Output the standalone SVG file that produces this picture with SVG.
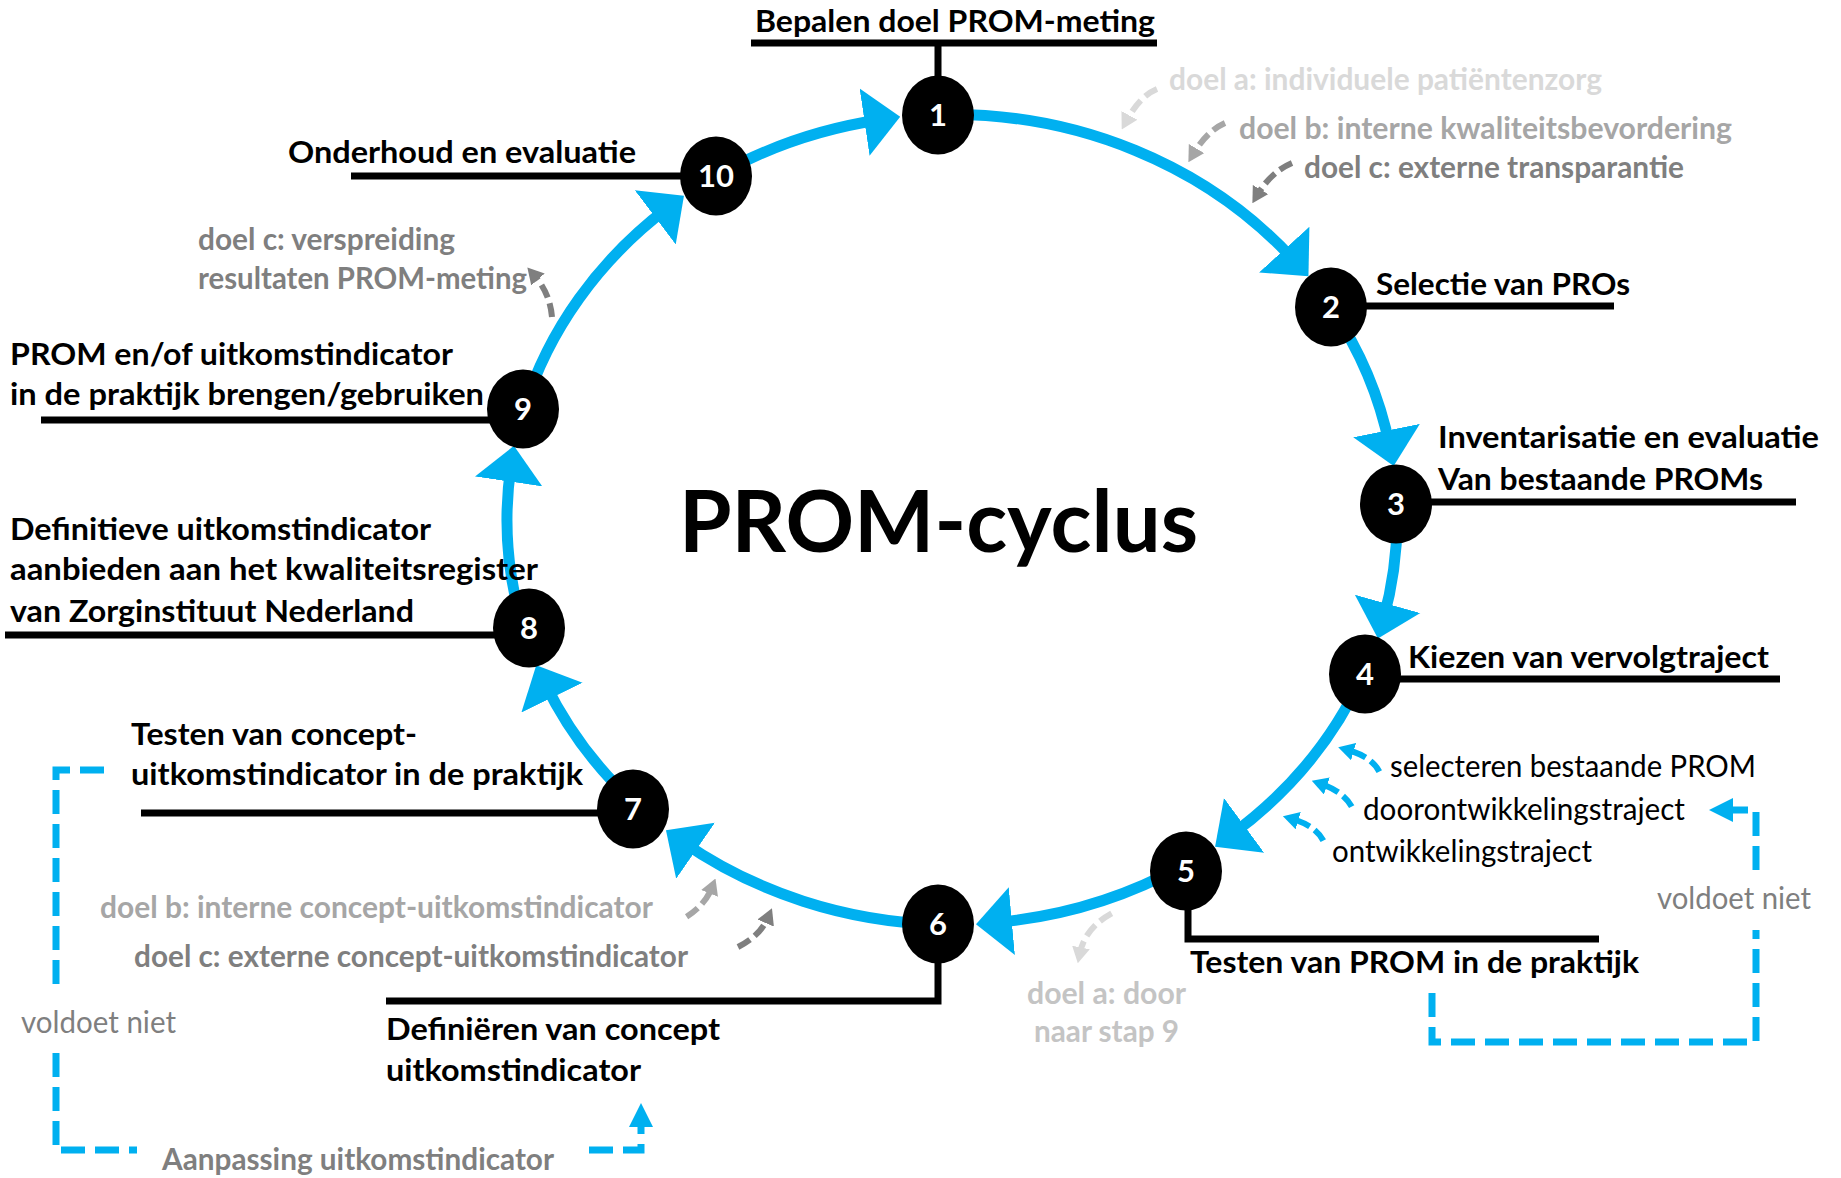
<svg xmlns="http://www.w3.org/2000/svg" width="1841" height="1178" viewBox="0 0 1841 1178">
<style>
  text { font-family: Lato, "Open Sans", sans-serif; }
  .b { font-weight: 700; font-size: 31px; fill: #000; }
  .r { font-weight: 400; font-size: 30px; fill: #000; }
  .num { font-weight: 700; font-size: 31px; fill: #fff; text-anchor: middle; }
  .title { font-weight: 700; font-size: 86px; fill: #000; }
  .ga { fill: #d9d9d9; }
  .gb { fill: #a6a6a6; }
  .gc { fill: #7f7f7f; }
  .gd { fill: #c4c4c4; }
  .node { fill: #000; }
  .lead { fill: none; stroke: #000; stroke-width: 7; stroke-linejoin: miter; }
  .ring { fill: none; stroke: #00b0f0; stroke-width: 11; marker-end: url(#ah); }
  .dsm { fill: none; stroke-width: 6; stroke-dasharray: 14 6; }
  .loop { fill: none; stroke: #00b0f0; stroke-width: 7; stroke-dasharray: 24 10; }
</style>
<defs>
  <marker id="ah" viewBox="0 -35 36 70" refX="16" refY="0" markerWidth="36" markerHeight="70" markerUnits="userSpaceOnUse" orient="auto">
    <path d="M0,-34 L36,0 L0,34 Z" fill="#00b0f0"/>
  </marker>
  <marker id="sa-blue" viewBox="0 -9 16 18" refX="6" refY="0" markerWidth="16" markerHeight="18" markerUnits="userSpaceOnUse" orient="auto">
    <path d="M0,-9 L16,0 L0,9 Z" fill="#00b0f0"/>
  </marker>
  <marker id="sa-d9" viewBox="0 -9 16 18" refX="6" refY="0" markerWidth="16" markerHeight="18" markerUnits="userSpaceOnUse" orient="auto">
    <path d="M0,-9 L16,0 L0,9 Z" fill="#d9d9d9"/>
  </marker>
  <marker id="sa-a6" viewBox="0 -9 16 18" refX="6" refY="0" markerWidth="16" markerHeight="18" markerUnits="userSpaceOnUse" orient="auto">
    <path d="M0,-9 L16,0 L0,9 Z" fill="#a6a6a6"/>
  </marker>
  <marker id="sa-7f" viewBox="0 -9 16 18" refX="6" refY="0" markerWidth="16" markerHeight="18" markerUnits="userSpaceOnUse" orient="auto">
    <path d="M0,-9 L16,0 L0,9 Z" fill="#7f7f7f"/>
  </marker>
  <marker id="la" viewBox="0 -12 24 24" refX="0" refY="0" markerWidth="24" markerHeight="24" markerUnits="userSpaceOnUse" orient="auto">
    <path d="M0,-12 L24,0 L0,12 Z" fill="#00b0f0"/>
  </marker>
</defs>
<rect width="1841" height="1178" fill="#fff"/>

<text id="title" class="title" x="679" y="552" textLength="519" lengthAdjust="spacingAndGlyphs">PROM-cyclus</text>

<g id="connectors">
  <path id="c10-1" class="ring" d="M716.2,176.0 A445,405 0 0 1 880.4,119.8"/>
  <path id="c1-2" class="ring" d="M938.0,114.7 A445,405 0 0 1 1295.0,261.4"/>
  <path id="c2-3" class="ring" d="M1331.0,307.3 A445,405 0 0 1 1389.7,446.3"/>
  <path id="c3-4" class="ring" d="M1396.7,504.0 A445,405 0 0 1 1383.3,619.3"/>
  <path id="c4-5" class="ring" d="M1363.6,673.5 A445,405 0 0 1 1231.2,834.9"/>
  <path id="c5-6" class="ring" d="M1182.5,865.9 A445,405 0 0 1 995.9,922.5"/>
  <path id="c6-7" class="ring" d="M938.0,924.3 A445,405 0 0 1 682.4,841.7"/>
  <path id="c7-8" class="ring" d="M636.8,805.4 A445,405 0 0 1 545.0,683.3"/>
  <path id="c8-9" class="ring" d="M523.6,629.1 A445,405 0 0 1 511.0,465.6"/>
  <path id="c9-10" class="ring" d="M523.8,409.2 A445,405 0 0 1 668.0,207.7"/>

  <!-- small dashed annotation arrows -->
  <path class="dsm" stroke="#d9d9d9" marker-end="url(#sa-d9)" d="M1157,89 Q1140,96 1126.5,120.7"/>
  <path class="dsm" stroke="#a6a6a6" marker-end="url(#sa-a6)" d="M1225,123 Q1207,131 1193.5,153.7"/>
  <path class="dsm" stroke="#7f7f7f" marker-end="url(#sa-7f)" d="M1292,163 Q1271,172 1257.5,194.7"/>
  <path class="dsm" stroke="#7f7f7f" marker-end="url(#sa-7f)" d="M552,317 Q550,293 534,275"/>
  <path class="dsm" stroke="#a6a6a6" marker-end="url(#sa-a6)" d="M686.6,916.7 Q705,905 711.8,887.8"/>
  <path class="dsm" stroke="#7f7f7f" marker-end="url(#sa-7f)" d="M738,947 Q760,936 768,917.5"/>
  <path class="dsm" stroke="#d9d9d9" marker-end="url(#sa-d9)" d="M1111.7,913.3 Q1085,928 1079.8,953.4"/>
  <path class="dsm" stroke="#00b0f0" marker-end="url(#sa-blue)" d="M1379.3,771.7 Q1372,757 1347.8,750"/>
  <path class="dsm" stroke="#00b0f0" marker-end="url(#sa-blue)" d="M1351.7,806.7 Q1344,792 1321.2,784"/>
  <path class="dsm" stroke="#00b0f0" marker-end="url(#sa-blue)" d="M1323.3,840.7 Q1316,826 1292.5,819"/>

  <!-- feedback loops -->
  <path class="loop" d="M1432,993 L1432,1042 L1756,1042 L1756,930"/>
  <path class="loop" marker-end="url(#la)" d="M1756,870 L1756,810 L1733,810"/>
  <path class="loop" d="M104,770 L56,770 L56,993"/>
  <path class="loop" d="M56,1053 L56,1150 L137,1150"/>
  <path class="loop" marker-end="url(#la)" d="M589,1150 L641,1150 L641,1127"/>
</g>

<g id="node-1">
  <path class="lead" d="M751,43 H1157 M938,43 V90"/>
  <ellipse class="node" cx="938" cy="115" rx="36" ry="39.5"/>
  <text class="num" x="938" y="126">1</text>
  <text class="b" x="755" y="32" textLength="400" lengthAdjust="spacingAndGlyphs">Bepalen doel PROM-meting</text>
</g>
<g id="node-2">
  <path class="lead" d="M1345,306 H1614"/>
  <ellipse class="node" cx="1331" cy="307" rx="36" ry="39.5"/>
  <text class="num" x="1331" y="318">2</text>
  <text class="b" x="1376" y="295" textLength="254" lengthAdjust="spacingAndGlyphs">Selectie van PROs</text>
</g>
<g id="node-3">
  <path class="lead" d="M1410,502 H1796"/>
  <ellipse class="node" cx="1396" cy="504" rx="36" ry="39.5"/>
  <text class="num" x="1396" y="515">3</text>
  <text class="b" x="1438" y="448" textLength="381" lengthAdjust="spacingAndGlyphs">Inventarisatie en evaluatie</text>
  <text class="b" x="1438" y="490" textLength="325" lengthAdjust="spacingAndGlyphs">Van bestaande PROMs</text>
</g>
<g id="node-4">
  <path class="lead" d="M1380,679 H1780"/>
  <ellipse class="node" cx="1365" cy="674" rx="36" ry="39.5"/>
  <text class="num" x="1365" y="685">4</text>
  <text class="b" x="1408" y="668" textLength="361" lengthAdjust="spacingAndGlyphs">Kiezen van vervolgtraject</text>
  <text class="r" x="1390" y="777" textLength="366" lengthAdjust="spacingAndGlyphs">selecteren bestaande PROM</text>
  <text class="r" x="1363" y="820" textLength="322" lengthAdjust="spacingAndGlyphs">doorontwikkelingstraject</text>
  <text class="r" x="1332" y="862" textLength="260" lengthAdjust="spacingAndGlyphs">ontwikkelingstraject</text>
</g>
<g id="node-5">
  <path class="lead" d="M1188,890 V939 H1599"/>
  <ellipse class="node" cx="1186" cy="871" rx="36" ry="39.5"/>
  <text class="num" x="1186" y="882">5</text>
  <text class="b" x="1190" y="973" textLength="449" lengthAdjust="spacingAndGlyphs">Testen van PROM in de praktijk</text>
  <text class="r gc" x="1657" y="909" textLength="154" lengthAdjust="spacingAndGlyphs">voldoet niet</text>
</g>
<g id="node-6">
  <path class="lead" d="M938,945 V1001 H386"/>
  <ellipse class="node" cx="938" cy="924" rx="36" ry="39.5"/>
  <text class="num" x="938" y="935">6</text>
  <text class="b" x="386" y="1040" textLength="334" lengthAdjust="spacingAndGlyphs">Definiëren van concept</text>
  <text class="b" x="386" y="1081" textLength="255" lengthAdjust="spacingAndGlyphs">uitkomstindicator</text>
</g>
<g id="node-7">
  <path class="lead" d="M141,813 H620"/>
  <ellipse class="node" cx="633" cy="809" rx="36" ry="39.5"/>
  <text class="num" x="633" y="820">7</text>
  <text class="b" x="131" y="745" textLength="286" lengthAdjust="spacingAndGlyphs">Testen van concept-</text>
  <text class="b" x="131" y="785" textLength="452" lengthAdjust="spacingAndGlyphs">uitkomstindicator in de praktijk</text>
  <text class="r gc" x="21" y="1033" textLength="155" lengthAdjust="spacingAndGlyphs">voldoet niet</text>
  <text class="b gc" x="162" y="1170" textLength="392" lengthAdjust="spacingAndGlyphs">Aanpassing uitkomstindicator</text>
</g>
<g id="node-8">
  <path class="lead" d="M5,635 H520"/>
  <ellipse class="node" cx="529" cy="628" rx="36" ry="39.5"/>
  <text class="num" x="529" y="639">8</text>
  <text class="b" x="10" y="540" textLength="421" lengthAdjust="spacingAndGlyphs">Definitieve uitkomstindicator</text>
  <text class="b" x="10" y="580" textLength="528" lengthAdjust="spacingAndGlyphs">aanbieden aan het kwaliteitsregister</text>
  <text class="b" x="10" y="622" textLength="404" lengthAdjust="spacingAndGlyphs">van Zorginstituut Nederland</text>
</g>
<g id="node-9">
  <path class="lead" d="M41,420 H510"/>
  <ellipse class="node" cx="523" cy="409" rx="36" ry="39.5"/>
  <text class="num" x="523" y="420">9</text>
  <text class="b" x="10" y="365" textLength="443" lengthAdjust="spacingAndGlyphs">PROM en/of uitkomstindicator</text>
  <text class="b" x="10" y="405" textLength="474" lengthAdjust="spacingAndGlyphs">in de praktijk brengen/gebruiken</text>
</g>
<g id="node-10">
  <path class="lead" d="M351,176 H700"/>
  <ellipse class="node" cx="716" cy="176" rx="36" ry="39.5"/>
  <text class="num" x="716" y="187">10</text>
  <text class="b" x="288" y="163" textLength="348" lengthAdjust="spacingAndGlyphs">Onderhoud en evaluatie</text>
</g>

<g id="annotations">
  <text class="b ga" x="1169" y="90" textLength="433" lengthAdjust="spacingAndGlyphs">doel a: individuele patiëntenzorg</text>
  <text class="b gb" x="1239" y="139" textLength="493" lengthAdjust="spacingAndGlyphs">doel b: interne kwaliteitsbevordering</text>
  <text class="b gc" x="1304" y="178" textLength="380" lengthAdjust="spacingAndGlyphs">doel c: externe transparantie</text>
  <text class="b gc" x="198" y="250" textLength="257" lengthAdjust="spacingAndGlyphs">doel c: verspreiding</text>
  <text class="b gc" x="198" y="289" textLength="329" lengthAdjust="spacingAndGlyphs">resultaten PROM-meting</text>
  <text class="b gb" x="100" y="918" textLength="553" lengthAdjust="spacingAndGlyphs">doel b: interne concept-uitkomstindicator</text>
  <text class="b gc" x="134" y="967" textLength="554" lengthAdjust="spacingAndGlyphs">doel c: externe concept-uitkomstindicator</text>
  <text class="b gd" x="1027" y="1004" textLength="159" lengthAdjust="spacingAndGlyphs">doel a: door</text>
  <text class="b gd" x="1034" y="1042" textLength="145" lengthAdjust="spacingAndGlyphs">naar stap 9</text>
</g>
</svg>
